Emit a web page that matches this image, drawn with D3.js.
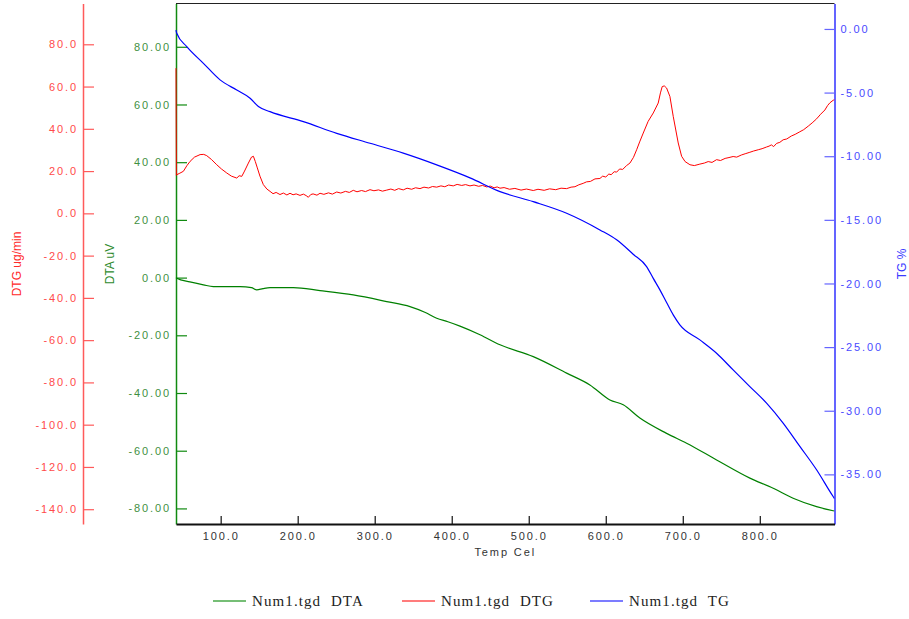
<!DOCTYPE html>
<html>
<head>
<meta charset="utf-8">
<script src="https://cdn.jsdelivr.net/npm/d3@7"></script>
<style>
  body { margin: 0; background: #fff; }
  svg { display: block; }
</style>
</head>
<body>
<svg id="chart" width="909" height="619"></svg>
<script>
// Temperature range of the run (°C) and axis ticks
const tempDomain = [42, 897];
const tempTicks = [100, 200, 300, 400, 500, 600, 700, 800];
const dtaTicks = [-80, -60, -40, -20, 0, 20, 40, 60, 80];
const dtgTicks = [-140, -120, -100, -80, -60, -40, -20, 0, 20, 40, 60, 80];
const tgTicks = [0, -5, -10, -15, -20, -25, -30, -35];

// DTA signal (uV) vs temperature
const dtaTemp = [42, 43, 60, 77.6, 90.5, 125.2, 140, 146.9, 155, 164.1, 194.4, 229, 272.2, 315.6, 345.8, 365, 380.5, 395, 410.7, 436.7, 462.7, 505.9, 549.2, 579.4, 605.4, 622.7, 644.3, 679, 705, 743.9, 787.1, 817.4, 843.3, 873.7, 895.2, 897];
const dtaValue = [0.0, -0.2, -1.5, -2.5, -3.1, -3.1, -3.5, -4.26, -3.8, -3.47, -3.47, -4.5, -6.0, -8.3, -10.05, -12.0, -14.07, -15.3, -16.8, -19.8, -23.3, -27.4, -33.1, -37.2, -42.4, -44.1, -48.7, -54.0, -57.4, -63.2, -69.5, -73.0, -76.5, -79.4, -80.8, -80.9];

// DTG signal (ug/min) vs temperature, including its visible ripple
const dtgTemp = [42, 42.5, 43, 47, 51.6, 56, 60.3, 66, 73.3, 78, 81.9, 88, 94.9, 101, 107.9, 114, 120.9, 124, 127.4, 131, 136, 140, 142.5, 145, 147.6, 151, 155.4, 160, 164.1, 168, 172, 177, 181.4, 186, 190, 194, 198, 203, 207.4, 211, 213.8, 217, 220, 225, 229, 234, 240, 245, 250.7, 256, 262, 267, 272.2, 277, 283, 288, 293.9, 299, 305, 310, 315.6, 321, 326, 331, 337.1, 342, 348, 353, 358.8, 364, 370, 375, 380.5, 386, 391, 396, 402, 407, 413, 418, 423.7, 429, 435, 440, 445.4, 450, 455, 459, 462.7, 468, 475, 482, 490, 497, 505.9, 512, 520, 527, 535, 542, 549.2, 555, 560, 565, 570.7, 575, 580, 586, 592.4, 596, 600, 604, 607, 611, 614.1, 618, 622, 627, 631.4, 636, 640.1, 644, 648.7, 655, 661.7, 668.1, 671, 673.3, 676, 679, 683.3, 687.6, 694.1, 698.5, 703, 709.3, 715, 722.2, 728, 733, 738, 743.9, 749, 755, 760, 765.4, 770, 776, 781, 787.1, 792, 798, 803, 808.8, 812, 815, 818, 821.8, 826, 830.3, 835, 841, 846, 852, 857, 863, 868, 873.7, 879, 884.5, 888, 891, 895.2, 897];
const dtgValue = [68.7, 18.0, 18.3, 19.0, 19.9, 22.5, 24.6, 26.6, 27.8, 27.9, 27.3, 25.5, 23.0, 21.0, 19.1, 17.6, 16.7, 17.8, 17.5, 20.0, 23.8, 26.6, 27.0, 24.5, 21.5, 17.6, 13.6, 11.5, 10.4, 9.3, 9.9, 8.9, 9.6, 8.7, 9.5, 8.8, 9.2, 8.5, 9.1, 8.4, 7.6, 8.9, 9.2, 8.6, 9.5, 9.0, 9.7, 9.1, 10.1, 9.6, 10.4, 9.9, 10.9, 10.2, 10.8, 10.3, 11.2, 10.7, 11.1, 10.5, 11.0, 11.5, 10.9, 11.7, 11.1, 11.9, 11.4, 12.1, 11.7, 12.4, 12.0, 12.7, 12.4, 13.0, 12.6, 13.4, 13.0, 13.7, 13.2, 13.6, 13.0, 13.4, 12.8, 13.2, 12.5, 12.9, 12.1, 12.5, 11.9, 12.2, 11.4, 11.8, 11.0, 11.5, 10.8, 11.4, 10.9, 11.6, 11.2, 11.9, 11.7, 12.4, 12.6, 13.5, 14.2, 14.9, 15.1, 16.3, 16.5, 17.6, 17.2, 18.6, 18.3, 19.7, 19.5, 21.0, 20.8, 22.6, 23.8, 26.5, 30.1, 33.8, 38.0, 43.5, 47.5, 52.2, 57.0, 60.0, 60.3, 59.3, 55.3, 45.9, 33.3, 27.0, 24.5, 23.0, 22.6, 23.3, 23.8, 24.5, 24.1, 25.4, 25.0, 26.0, 26.4, 26.9, 26.6, 27.6, 28.2, 28.9, 29.5, 30.1, 30.6, 31.4, 31.8, 32.4, 31.6, 33.1, 33.6, 34.8, 35.2, 36.6, 37.4, 38.6, 39.6, 41.3, 42.8, 44.7, 46.9, 48.9, 51.0, 52.3, 53.5, 53.8, 52.0];

// TG mass change (%) vs temperature
const tgTemp = [42, 43, 56, 77.6, 99.2, 120.9, 138.2, 149, 164.1, 207.4, 250.7, 293.9, 337.1, 380.5, 423.7, 462.7, 505.9, 549.2, 592.4, 614.1, 635.6, 653, 661.7, 670.3, 679, 687.6, 696.2, 722.2, 743.9, 765.4, 787.1, 808.8, 830.3, 852, 873.7, 895.2, 897];
const tgValue = [-0.1, -0.34, -1.39, -2.7, -4.0, -4.8, -5.44, -6.1, -6.5, -7.28, -8.2, -8.98, -9.76, -10.68, -11.7, -12.78, -13.57, -14.48, -15.79, -16.57, -17.7, -18.67, -19.6, -20.5, -21.5, -22.47, -23.25, -24.43, -25.48, -26.79, -28.1, -29.4, -30.97, -32.8, -34.64, -36.74, -36.9];

const legendLabels = ["Num1.tgd  DTA", "Num1.tgd  DTG", "Num1.tgd  TG"];

// ---- layout ----
const plot = { left: 176, right: 834.5, top: 3.5, bottom: 524 };
const colors = {
  dta: "#008000", dtg: "#ff0000", tg: "#0000ff",
  dtaAxis: "#108a10", dtgAxis: "#ff5a5a", tgAxis: "#6464ff",
  dtaText: "#3f8f3f", dtgText: "#ff4a4a", tgText: "#4a4aff"
};
const tickFont = "'Liberation Sans', Arial, sans-serif";

const svg = d3.select("#chart");

const x = d3.scaleLinear().domain(tempDomain).range([plot.left, plot.right]);
const yDTA = d3.scaleLinear().domain([-85.4, 95]).range([plot.bottom, plot.top]);
const yDTG = d3.scaleLinear().domain([-147, 99.3]).range([plot.bottom, plot.top]);
const yTG = d3.scaleLinear().domain([-38.9, 2.0]).range([plot.bottom, plot.top]);

function styleAxis(g, lineColor, textColor, lineWidth) {
  g.attr("font-family", tickFont).attr("font-size", 11);
  g.select(".domain").attr("stroke", lineColor).attr("stroke-width", lineWidth);
  g.selectAll(".tick line").attr("stroke", lineColor).attr("stroke-width", 1.2);
  g.selectAll(".tick text").attr("fill", textColor).attr("letter-spacing", "1.9px");
}

// DTG axis (far left)
svg.append("g")
  .attr("transform", "translate(83,0)")
  .call(d3.axisLeft(yDTG).tickValues(dtgTicks).tickSizeInner(-11).tickSizeOuter(0)
    .tickPadding(5).tickFormat(d => d.toFixed(1)))
  .call(g => styleAxis(g, colors.dtgAxis, colors.dtgText, 1.5));

// DTA axis (left edge of plot)
svg.append("g")
  .attr("transform", `translate(${plot.left},0)`)
  .call(d3.axisLeft(yDTA).tickValues(dtaTicks).tickSizeInner(-11).tickSizeOuter(0)
    .tickPadding(5).tickFormat(d => d.toFixed(2)))
  .call(g => styleAxis(g, colors.dtaAxis, colors.dtaText, 1.5));

// TG axis (right edge of plot)
svg.append("g")
  .attr("transform", `translate(${plot.right},0)`)
  .call(d3.axisRight(yTG).tickValues(tgTicks).tickSizeInner(-10).tickSizeOuter(0)
    .tickPadding(6).tickFormat(d => d.toFixed(2)))
  .call(g => styleAxis(g, colors.tgAxis, colors.tgText, 2));

// Temperature axis
svg.append("g")
  .attr("transform", `translate(0,${plot.bottom})`)
  .call(d3.axisBottom(x).tickValues(tempTicks).tickSizeInner(-8).tickSizeOuter(0)
    .tickPadding(8).tickFormat(d => d.toFixed(1)))
  .call(g => styleAxis(g, "#111", "#333", 2.2));

// top frame line
svg.append("line")
  .attr("x1", plot.left).attr("x2", plot.right)
  .attr("y1", plot.top).attr("y2", plot.top)
  .attr("stroke", "#222").attr("stroke-width", 1.2);

// axis titles
function vTitle(tx, ty, text, color) {
  svg.append("text")
    .attr("transform", `translate(${tx},${ty}) rotate(-90)`)
    .attr("text-anchor", "middle").attr("dy", "0.35em")
    .attr("font-family", tickFont).attr("font-size", 12)
    .attr("fill", color).text(text);
}
vTitle(17, 264, "DTG ug/min", "#ff2a2a");
vTitle(110, 264, "DTA uV", "#2e8b2e");
vTitle(902, 264, "TG %", "#3a3aff");

svg.append("text")
  .attr("x", (plot.left + plot.right) / 2).attr("y", 552).attr("dy", "0.35em")
  .attr("text-anchor", "middle")
  .attr("font-family", tickFont).attr("font-size", 11).attr("letter-spacing", "1.9px")
  .attr("fill", "#333").text("Temp Cel");

// curves
svg.append("clipPath").attr("id", "plot-clip")
  .append("rect")
  .attr("x", plot.left - 1).attr("y", plot.top)
  .attr("width", plot.right - plot.left + 1).attr("height", plot.bottom - plot.top);

const curves = svg.append("g").attr("clip-path", "url(#plot-clip)");

function drawSeries(temps, values, yScale, color, curve, width) {
  const pts = temps.map((t, i) => [t, values[i]]);
  curves.append("path")
    .datum(pts)
    .attr("fill", "none")
    .attr("stroke", color)
    .attr("stroke-width", width)
    .attr("stroke-linejoin", "round")
    .attr("d", d3.line().curve(curve).x(d => x(d[0])).y(d => yScale(d[1])));
}
drawSeries(dtaTemp, dtaValue, yDTA, colors.dta, d3.curveMonotoneX, 1.2);
drawSeries(dtgTemp, dtgValue, yDTG, colors.dtg, d3.curveLinear, 1.0);
drawSeries(tgTemp, tgValue, yTG, colors.tg, d3.curveMonotoneX, 1.2);

// legend
const legendItems = [
  { label: legendLabels[0], color: "#48a848", x0: 213 },
  { label: legendLabels[1], color: "#ff5050", x0: 402 },
  { label: legendLabels[2], color: "#5050ff", x0: 590 }
];
const legend = svg.append("g");
legendItems.forEach(it => {
  legend.append("line")
    .attr("x1", it.x0).attr("x2", it.x0 + 33)
    .attr("y1", 601).attr("y2", 601)
    .attr("stroke", it.color).attr("stroke-width", 1.4);
  legend.append("text")
    .attr("x", it.x0 + 39).attr("y", 605.5)
    .attr("font-family", "'Liberation Serif', 'Times New Roman', serif")
    .attr("font-size", 15).attr("letter-spacing", "1.1px")
    .style("white-space", "pre")
    .attr("fill", "#222").text(it.label);
});
</script>
</body>
</html>
